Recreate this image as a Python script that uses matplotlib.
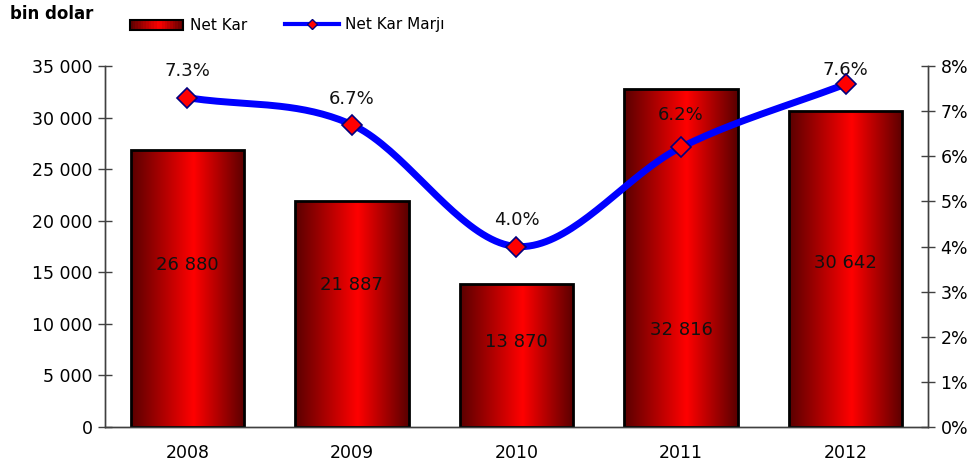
import numpy as np
import matplotlib
matplotlib.use("Agg")
import matplotlib.pyplot as plt
from matplotlib.colors import LinearSegmentedColormap
from matplotlib.patches import Rectangle
from matplotlib.lines import Line2D
from matplotlib.legend_handler import HandlerBase

years = ["2008", "2009", "2010", "2011", "2012"]
net_kar = [26880, 21887, 13870, 32816, 30642]
net_kar_label = ["26 880", "21 887", "13 870", "32 816", "30 642"]
marj = [7.3, 6.7, 4.0, 6.2, 7.6]
marj_label = ["7.3%", "6.7%", "4.0%", "6.2%", "7.6%"]
left_ticks = [0, 5000, 10000, 15000, 20000, 25000, 30000, 35000]
left_tick_labels = ["0", "5 000", "10 000", "15 000", "20 000", "25 000", "30 000", "35 000"]
right_ticks = [0, 1, 2, 3, 4, 5, 6, 7, 8]
right_tick_labels = ["0%", "1%", "2%", "3%", "4%", "5%", "6%", "7%", "8%"]

# label placement (style)
bar_label_y = [15700, 13750, 8250, 9400, 15900]
pct_offset = [19.4, 18.7, 19.4, 23, 10]

plt.rcParams['font.family'] = ['DejaVu Sans']
fig = plt.figure(figsize=(9.8, 4.68), dpi=100)
ax = fig.add_axes([105/980, 1-427/468, (928-105)/980, (427-66)/468])
ax2 = ax.twinx()

cmap = LinearSegmentedColormap.from_list(
    "barg", [(0.0, "#5a0000"), (0.55, "#ff0000"), (1.0, "#5a0000")])
grad = np.linspace(0, 1, 256).reshape(1, -1)

x = np.arange(len(years))
width = 0.69
ax.set_xlim(-0.5, len(years) - 0.5)
ax.set_ylim(0, 35000)
for xi, v in zip(x, net_kar):
    l, r = xi - width/2, xi + width/2
    im = ax.imshow(grad, cmap=cmap, extent=[l, r, 0, v], aspect='auto', zorder=2, interpolation='bicubic')
    rect = Rectangle((l, 0), width, v, facecolor='none', edgecolor='black', lw=2, zorder=3)
    ax.add_patch(rect)
    im.set_clip_path(rect)
ax.set_aspect('auto')
ax.set_xlim(-0.5, len(years) - 0.5)
ax.set_ylim(0, 35000)

for xi, ly, t in zip(x, bar_label_y, net_kar_label):
    ax.text(xi, ly, t, ha='center', va='center', fontsize=13, color='#111111', zorder=4)

# Smooth line (Catmull-Rom through the points)
def catmull(xs, ys, n=40):
    px = np.concatenate([[2*xs[0]-xs[1]], xs, [2*xs[-1]-xs[-2]]])
    py = np.concatenate([[2*ys[0]-ys[1]], ys, [2*ys[-1]-ys[-2]]])
    ox, oy = [], []
    for i in range(1, len(px)-2):
        t = np.linspace(0, 1, n)
        for P, out in ((px, ox), (py, oy)):
            p0, p1, p2, p3 = P[i-1], P[i], P[i+1], P[i+2]
            out.extend(0.5*((2*p1) + (-p0+p2)*t + (2*p0-5*p1+4*p2-p3)*t**2 + (-p0+3*p1-3*p2+p3)*t**3))
    return np.array(ox), np.array(oy)

sx, sy = catmull(x.astype(float), np.array(marj, float))
ax2.plot(sx, sy, color='#0000ff', lw=5, zorder=5, solid_capstyle='round')
ax2.plot(x, marj, ls='none', marker='D', ms=10, mfc='#ff0000', mec='#000080', mew=1.2, zorder=6)
ax2.set_ylim(0, 8)
for xi, v, t, off in zip(x, marj, marj_label, pct_offset):
    ax2.annotate(t, (xi, v), xytext=(0, off), textcoords='offset points',
                 ha='center', va='center', fontsize=13, color='#111111')

ax.set_xticks(x)
ax.set_xticklabels(years, fontsize=12.5)
ax.tick_params(axis='x', length=0, pad=12)
ax.set_yticks(left_ticks)
ax.set_yticklabels(left_tick_labels, fontsize=12.5)
ax.tick_params(axis='y', direction='inout', length=10, width=1, color='#404040', pad=4)
ax2.set_yticks(right_ticks)
ax2.set_yticklabels(right_tick_labels, fontsize=12.5)
ax2.tick_params(axis='y', direction='inout', length=10, width=1, color='#404040', pad=4)
for a in (ax, ax2):
    a.spines['top'].set_visible(False)
    for s in ('left', 'right', 'bottom'):
        a.spines[s].set_color('#404040')
        a.spines[s].set_linewidth(1)

fig.text(10/980, 1-14/468, "bin dolar", fontsize=12, fontweight='bold', va='center', ha='left')

class GradHandler(HandlerBase):
    def create_artists(self, legend, orig, xd, yd, w, h, fontsize, trans):
        arts = []
        n = 20
        for i in range(n):
            c = cmap((i + 0.5) / n)
            arts.append(Rectangle((xd + w*i/n, yd), w/n, h, facecolor=c, edgecolor='none', transform=trans))
        arts.append(Rectangle((xd, yd), w, h, facecolor='none', edgecolor='black', lw=1.5, transform=trans))
        return arts

bar_handle = Rectangle((0, 0), 1, 1)
line_handle = Line2D([], [], color='#0000ff', lw=3, marker='D', ms=5, mfc='#ff0000', mec='#000080')
fig.legend([bar_handle, line_handle], ["Net Kar", "Net Kar Marjı"],
           handler_map={Rectangle: GradHandler()}, loc='center left',
           bbox_to_anchor=(130/980, 1-25/468), ncol=2, frameon=False, fontsize=11,
           handlelength=3.5, handleheight=0.6, columnspacing=2.5, handletextpad=0.4,
           borderpad=0, borderaxespad=0)

fig.savefig("out.png", dpi=100)
